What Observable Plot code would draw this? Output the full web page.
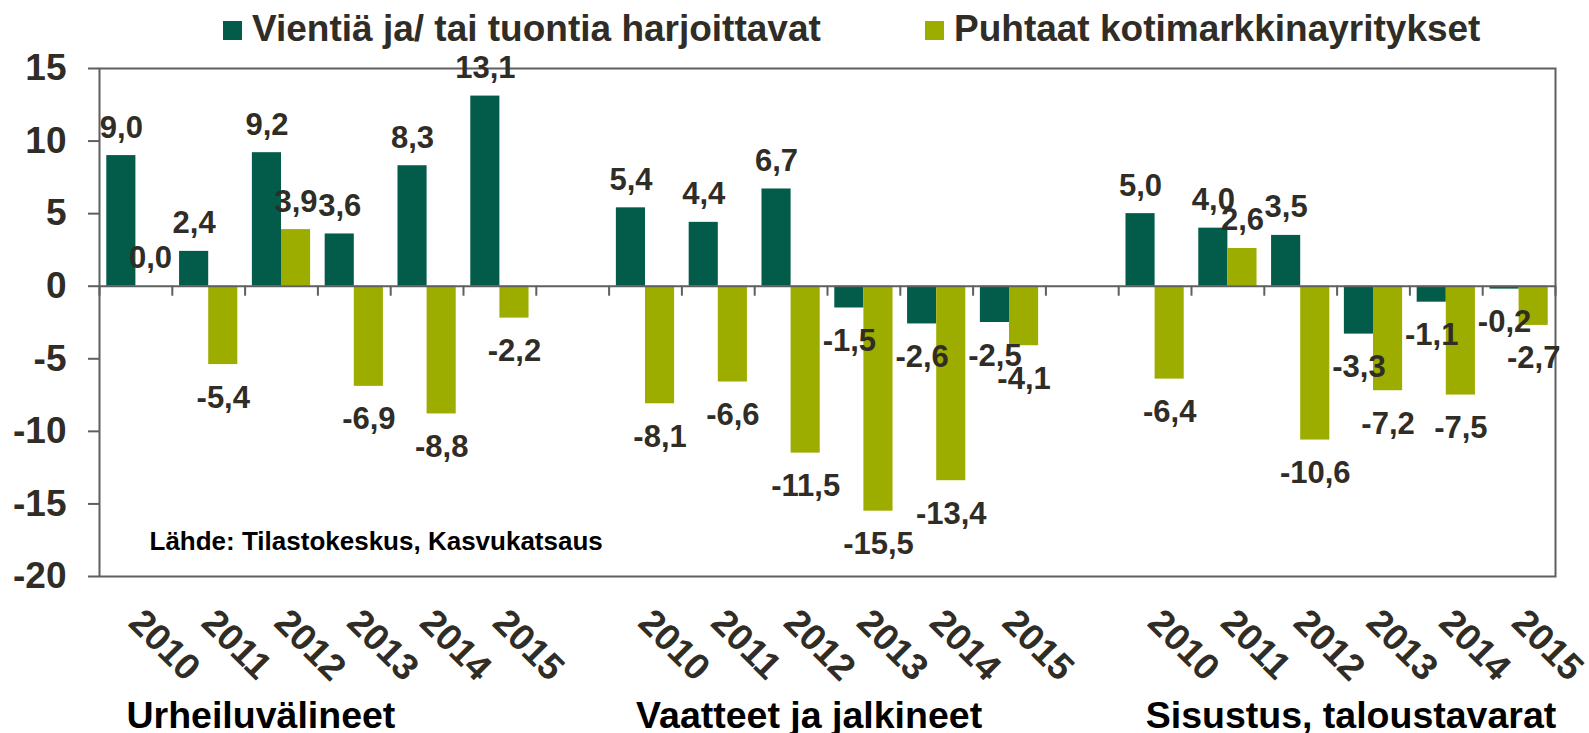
<!DOCTYPE html>
<html>
<head>
<meta charset="utf-8">
<script src="https://cdn.jsdelivr.net/npm/d3@7"></script>
<script src="https://cdn.jsdelivr.net/npm/@observablehq/plot@0.6"></script>
<style>
  html, body { margin: 0; padding: 0; background: #ffffff; overflow: hidden; }
  body { font-family: "Liberation Sans", Arial, sans-serif; font-weight: bold; color: #302c26; }
  #wrap { position: relative; width: 1589px; height: 733px; }
  #legend { position: relative; width: 1589px; height: 50px; }
  .item { position: absolute; top: 10px; display: flex; align-items: center; font-size: 37px; line-height: 37px; white-space: nowrap; }
  .sw { width: 19px; height: 19px; margin-right: 10px; margin-top: 3px; }
  #chart svg { display: block; }
</style>
</head>
<body>
<div id="wrap">
  <div id="legend"></div>
  <div id="chart"></div>
</div>
<script>
// ---- data ----
const groups = ["Urheiluvälineet", "Vaatteet ja jalkineet", "Sisustus, taloustavarat"];
const years = ["2010", "2011", "2012", "2013", "2014", "2015"];
const seriesNames = ["Vientiä ja/ tai tuontia harjoittavat", "Puhtaat kotimarkkinayritykset"];
// values per group, in year order
const vientiValues = [
  9.0, 2.4, 9.2, 3.6, 8.3, 13.1,
  5.4, 4.4, 6.7, -1.5, -2.6, -2.5,
  5.0, 4.0, 3.5, -3.3, -1.1, -0.2
];
const kotimarkkinaValues = [
  0.0, -5.4, 3.9, -6.9, -8.8, -2.2,
  -8.1, -6.6, -11.5, -15.5, -13.4, -4.1,
  -6.4, 2.6, -10.6, -7.2, -7.5, -2.7
];
const yTicks = [15, 10, 5, 0, -5, -10, -15, -20];
const sourceText = "Lähde: Tilastokeskus, Kasvukatsaus";

// ---- styling ----
const darkGreen = "#035c49";
const olive = "#9dad00";
const textColor = "#302c26";
const axisColor = "#5f5f5f";

// ---- legend (HTML) ----
const legend = document.getElementById("legend");
const legendLeft = [223, 925];
seriesNames.forEach((name, i) => {
  const it = document.createElement("div");
  it.className = "item";
  it.style.left = legendLeft[i] + "px";
  const sw = document.createElement("span");
  sw.className = "sw";
  sw.style.background = [darkGreen, olive][i];
  const tx = document.createElement("span");
  tx.textContent = name;
  it.appendChild(sw); it.appendChild(tx);
  legend.appendChild(it);
});

// ---- build table ----
const perGroup = years.length + 1; // one empty slot between groups
const nSlots = groups.length * perGroup - 1;
const rows = [];
groups.forEach((g, gi) => {
  years.forEach((yr, yi) => {
    const slot = gi * perGroup + yi;
    [vientiValues, kotimarkkinaValues].forEach((vals, si) => {
      const v = vals[gi * years.length + yi];
      rows.push({
        group: g, year: yr, series: seriesNames[si], value: v,
        x1: slot + 0.1 + 0.4 * si, x2: slot + 0.5 + 0.4 * si, xc: slot + 0.3 + 0.4 * si
      });
    });
  });
});
const yearRows = groups.flatMap((g, gi) => years.map((yr, yi) => ({ year: yr, x: gi * perGroup + yi + 0.5 })));
const groupRows = groups.map((g, gi) => ({ group: g, x: gi * perGroup }));
const bounds = d3.range(nSlots + 1);
const fmt = v => v.toFixed(1).replace(".", ",");

const chart = Plot.plot({
  width: 1589,
  height: 683,
  marginTop: 18,
  marginBottom: 157,
  marginLeft: 99,
  marginRight: 34,
  style: { fontFamily: "'Liberation Sans', Arial, sans-serif", fontWeight: "bold", color: textColor, background: "#ffffff" },
  x: { domain: [0, nSlots], axis: null },
  y: { domain: [-20, 15], axis: null },
  color: { domain: seriesNames, range: [darkGreen, olive] },
  marks: [
    Plot.rect(rows, { x1: "x1", x2: "x2", y1: () => 0, y2: "value", fill: "series" }),
    Plot.ruleY([0], { stroke: axisColor, strokeWidth: 2 }),
    Plot.ruleX(bounds, { x: d => d, y1: () => 0, y2: () => 0, insetBottom: -10, stroke: axisColor, strokeWidth: 2 }),
    Plot.frame({ stroke: axisColor, strokeWidth: 2 }),
    Plot.axisY({ ticks: yTicks, tickFormat: d => String(d), label: null, tickSize: 11, tickPadding: 22, fontSize: 37, fill: textColor, stroke: axisColor, strokeWidth: 2 }),
    Plot.text(rows.filter(d => d.value >= 0), { x: "xc", y: "value", text: d => fmt(d.value), lineAnchor: "bottom", dy: -18, fontSize: 31, fill: textColor }),
    Plot.text(rows.filter(d => d.value < 0), { x: "xc", y: "value", text: d => fmt(d.value), lineAnchor: "top", dy: 21, fontSize: 31, fill: textColor }),
    Plot.text(yearRows, { x: "x", frameAnchor: "bottom", text: "year", rotate: 45, textAnchor: "start", lineAnchor: "bottom", dx: -9, dy: 48, fontSize: 37, fill: textColor }),
    Plot.text(groupRows, { x: "x", frameAnchor: "bottom", text: "group", textAnchor: "start", lineAnchor: "bottom", dx: 27, dy: 151, fontSize: 37.5, fill: "#000000" }),
    Plot.text([sourceText], { frameAnchor: "bottom-left", text: d => d, textAnchor: "start", lineAnchor: "bottom", dx: 50, dy: -27, fontSize: 26, fill: "#000000" })
  ]
});
document.getElementById("chart").appendChild(chart);
</script>
</body>
</html>
